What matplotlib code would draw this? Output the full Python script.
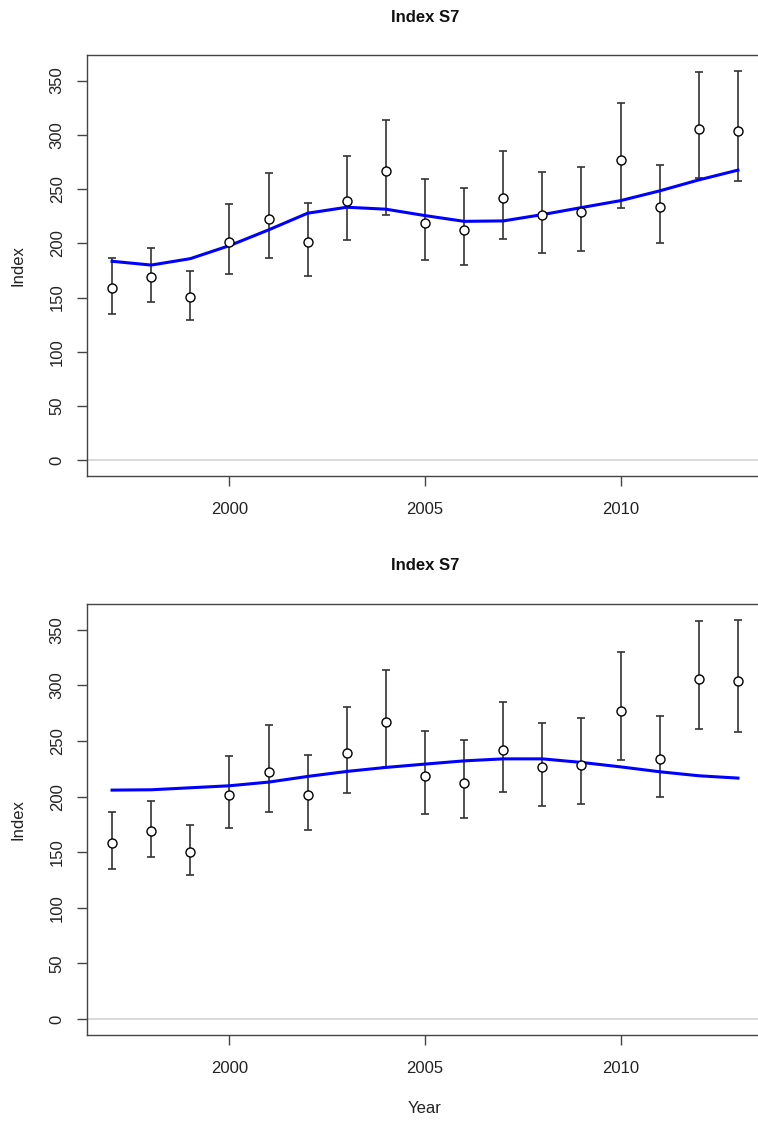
import matplotlib
matplotlib.use("Agg")
import matplotlib.pyplot as plt

plt.rcParams['font.family'] = ['Liberation Sans', 'DejaVu Sans']

years = list(range(1997, 2014))
obs = [158.5, 169.3, 150.2, 201.6, 222.5, 201.3, 239.1, 266.6, 218.8,
       212.6, 241.6, 226.2, 228.7, 277.0, 233.6, 305.6, 304.0]
upper = [186.4, 196.0, 174.2, 236.7, 264.4, 237.6, 280.7, 313.7, 259.2,
         250.9, 285.0, 266.2, 270.2, 329.6, 272.1, 357.6, 359.2]
lower = [134.5, 145.9, 129.3, 171.4, 186.5, 169.9, 203.1, 226.2, 184.4,
         180.3, 204.3, 191.1, 193.0, 232.7, 200.0, 260.7, 257.9]
fit_top = [183.5, 180.0, 185.9, 197.9, 212.4, 227.8, 233.3, 231.5, 225.6,
           220.3, 220.7, 226.5, 233.0, 239.4, 248.4, 258.5, 267.5]
fit_bottom = [205.8, 206.1, 207.9, 209.7, 213.0, 218.1, 222.6, 226.2, 229.2,
              232.1, 233.9, 233.9, 230.7, 226.7, 222.3, 218.7, 216.6]
title = "Index S7"
yticks = [0, 50, 100, 150, 200, 250, 300, 350]
xticks = [2000, 2005, 2010]

W, H = 758, 1122
fig = plt.figure(figsize=(W / 100, H / 100), dpi=100)

spine_col = '#444444'
fs = 12

def make_axes(top_px, bot_px, fit, show_xlabel):
    left_px, right_px = 87, 763
    ax = fig.add_axes([left_px / W, (H - bot_px) / H,
                       (right_px - left_px) / W, (bot_px - top_px) / H])
    ax.axhline(0, color='#d3d3d3', lw=1.2, zorder=1)
    yerr = [[o - l for o, l in zip(obs, lower)],
            [u - o for u, o in zip(upper, obs)]]
    ax.errorbar(years, obs, yerr=yerr, fmt='none', ecolor='#333333',
                elinewidth=1.2, capsize=3, capthick=1.2, zorder=2)
    ax.plot(years, fit, color='#0000ff', lw=2.2, zorder=3)
    ax.plot(years, obs, 'o', mfc='white', mec='black', mew=1.0, ms=6.5, zorder=4)
    ax.set_xlim(1996.36, 2013.64)
    ax.set_ylim(-14.4, 373.6)
    ax.set_yticks(yticks)
    ax.set_yticklabels([str(v) for v in yticks], rotation=90, va='center',
                       fontsize=fs)
    ax.set_xticks(xticks)
    ax.set_xticklabels([str(v) for v in xticks], fontsize=fs)
    ax.tick_params(axis='both', direction='out', length=7, width=1,
                   color=spine_col, labelcolor='#222222')
    ax.tick_params(axis='x', pad=12)
    ax.tick_params(axis='y', pad=9)
    for s in ax.spines.values():
        s.set_color(spine_col)
        s.set_linewidth(1.0)
    ax.set_title(title, fontsize=fs, fontweight='bold', pad=24, color='#111111')
    ax.set_ylabel("Index", fontsize=fs, labelpad=17.5, color='#222222')
    if show_xlabel:
        ax.set_xlabel("Year", fontsize=fs, labelpad=18, color='#222222')
    return ax

make_axes(55, 476, fit_top, False)
make_axes(603.5, 1035, fit_bottom, True)

fig.savefig("out.png", dpi=100, facecolor='white')
